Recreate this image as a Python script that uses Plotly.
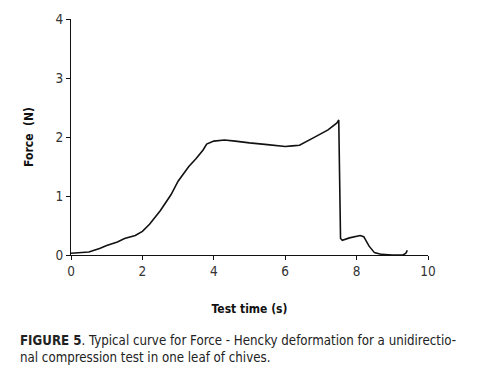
import plotly.graph_objects as go

time_s = [0.0, 0.2, 0.5, 0.8, 1.0, 1.3, 1.5, 1.8, 2.0, 2.2, 2.5, 2.8, 3.0, 3.3, 3.5, 3.7, 3.8, 4.0, 4.3, 4.6, 4.8,
          5.0, 5.5, 5.8, 6.0, 6.2, 6.4, 6.8, 7.2, 7.45, 7.5, 7.55, 7.6, 7.8, 8.1, 8.2, 8.35, 8.5, 8.7, 9.0, 9.3, 9.38, 9.42]
force_n = [0.03, 0.04, 0.05, 0.11, 0.16, 0.22, 0.28, 0.33, 0.40, 0.52, 0.75, 1.02, 1.25, 1.50, 1.63, 1.78, 1.88, 1.93, 1.95, 1.93, 1.92,
           1.90, 1.87, 1.85, 1.84, 1.85, 1.86, 1.99, 2.12, 2.24, 2.29, 0.28, 0.25, 0.29, 0.33, 0.31, 0.15, 0.04, 0.01, 0.00, 0.00, 0.03, 0.08]

x_ticks = [0, 2, 4, 6, 8, 10]
y_ticks = [0, 1, 2, 3, 4]

FONT = "DejaVu Sans Condensed"

fig = go.Figure()
fig.add_trace(go.Scatter(x=time_s, y=force_n, mode="lines",
                         line=dict(color="#111111", width=1.6), showlegend=False))

axis_common = dict(showgrid=False, zeroline=False, showline=True, linecolor="#111111", linewidth=1,
                   ticks="outside", ticklen=4, tickwidth=1, tickcolor="#111111", automargin=False,
                   tickfont=dict(family=FONT, size=13.5, color="#333333"))

fig.update_xaxes(range=[0, 10], tickvals=x_ticks, **axis_common,
                 title=dict(text="<b>Test time (s)</b>", font=dict(family=FONT, size=12, color="#111111"), standoff=26))
fig.update_yaxes(range=[0, 4], tickvals=y_ticks, **axis_common,
                 title=dict(text="<b>Force  (N)</b>", font=dict(family=FONT, size=12, color="#111111"), standoff=19))

fig.add_annotation(xref="paper", yref="paper", x=-0.148, y=-0.322, xanchor="left", yanchor="top", align="left",
                   showarrow=False,
                   text="<b>FIGURE 5</b>. Typical curve for Force - Hencky deformation for a unidirectio-<br>nal compression test in one leaf of chives.",
                   font=dict(family=FONT, size=13.2, color="#222222"))

fig.update_layout(width=475, height=374, margin=dict(l=63, r=55, t=11, b=127),
                  paper_bgcolor="white", plot_bgcolor="white")

fig.write_html("out.html")
